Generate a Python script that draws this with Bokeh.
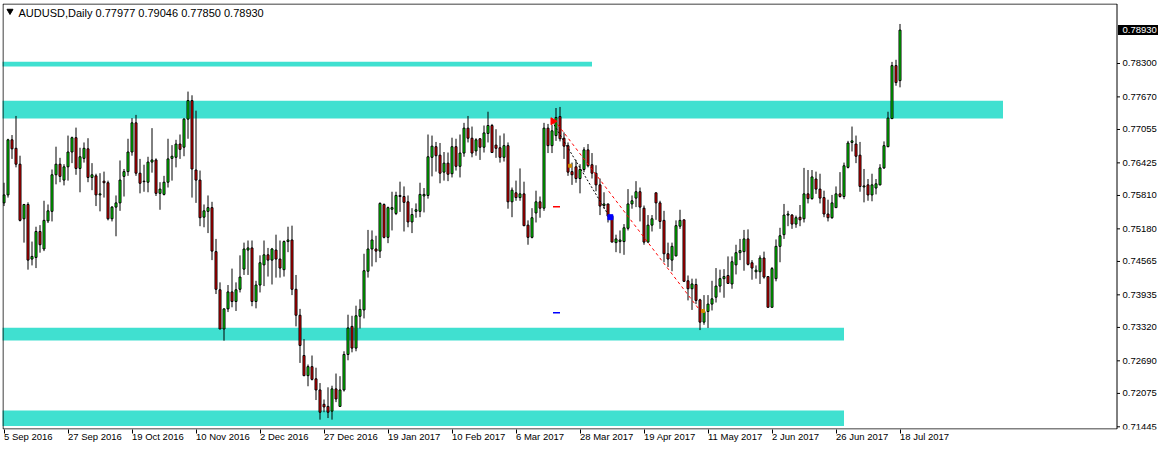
import math
from bokeh.plotting import figure
from bokeh.models import ColumnDataSource, FixedTicker, Range1d, Label
from bokeh.core.properties import value
from bokeh.embed import file_html
from bokeh.resources import INLINE

# ---------------- data (AUDUSD daily) ----------------
opens = [
    .7567, .7582, .7686, .7670, .7640, .7537, .7564, .7461, .7464, .7513,
    .7480, .7533, .7551, .7620, .7640, .7610, .7635, .7663, .7690, .7632,
    .7651, .7669, .7615, .7618, .7582, .7608, .7605, .7537, .7559, .7567,
    .7617, .7626, .7663, .7718, .7623, .7608, .7606, .7644, .7648, .7585,
    .7583, .7606, .7651, .7653, .7678, .7672, .7725, .7760, .7629, .7610,
    .7540, .7551, .7558, .7475, .7403, .7329, .7367, .7399, .7381, .7404,
    .7442, .7478, .7482, .7381, .7412, .7450, .7469, .7459, .7478, .7461,
    .7441, .7494, .7497, .7404, .7355, .7279, .7241, .7258, .7235, .7214,
    .7187, .7183, .7174, .7216, .7183, .7214, .7281, .7334, .7293, .7353,
    .7365, .7438, .7480, .7480, .7476, .7564, .7502, .7555, .7547, .7581,
    .7579, .7569, .7531, .7551, .7551, .7580, .7581, .7653, .7673, .7657,
    .7625, .7642, .7622, .7673, .7636, .7661, .7708, .7689, .7665, .7688,
    .7672, .7698, .7713, .7676, .7671, .7653, .7675, .7569, .7586, .7577,
    .7584, .7525, .7502, .7548, .7569, .7557, .7708, .7675, .7694, .7730,
    .7689, .7675, .7626, .7635, .7613, .7630, .7667, .7639, .7623, .7601,
    .7562, .7565, .7542, .7492, .7494, .7494, .7519, .7565, .7576, .7588,
    .7557, .7493, .7525, .7586, .7567, .7534, .7471, .7459, .7467, .7523,
    .7535, .7420, .7405, .7413, .7384, .7342, .7362, .7376, .7389, .7410,
    .7424, .7430, .7414, .7450, .7473, .7475, .7499, .7454, .7437, .7437,
    .7463, .7428, .7370, .7424, .7485, .7507, .7544, .7544, .7527, .7540,
    .7537, .7584, .7575, .7612, .7593, .7577, .7546, .7539, .7558, .7584,
    .7579, .7634, .7681, .7678, .7657, .7597, .7601, .7582, .7595, .7601,
    .7633, .7673, .7726, .7826, .77977,
]
highs = [
    .7605, .7688, .7695, .7731, .7656, .7565, .7568, .7494, .7522, .7525,
    .7571, .7564, .7630, .7673, .7652, .7640, .7694, .7692, .7709, .7671,
    .7681, .7689, .7642, .7622, .7623, .7626, .7609, .7561, .7581, .7647,
    .7631, .7688, .7727, .7733, .7650, .7639, .7654, .7708, .7651, .7606,
    .7618, .7688, .7676, .7686, .7696, .7727, .7777, .7770, .7741, .7628,
    .7564, .7581, .7569, .7499, .7417, .7368, .7412, .7443, .7417, .7468,
    .7492, .7496, .7496, .7420, .7468, .7496, .7482, .7482, .7507, .7496,
    .7496, .7522, .7524, .7431, .7367, .7310, .7262, .7279, .7256, .7227,
    .7196, .7219, .7222, .7245, .7240, .7287, .7356, .7354, .7373, .7385,
    .7471, .7516, .7515, .7505, .7568, .7566, .7560, .7588, .7588, .7607,
    .7598, .7581, .7557, .7566, .7605, .7595, .7696, .7694, .7682, .7680,
    .7663, .7662, .7690, .7688, .7696, .7718, .7731, .7711, .7689, .7689,
    .7713, .7739, .7716, .7706, .7694, .7698, .7681, .7596, .7609, .7632,
    .7607, .7534, .7557, .7590, .7579, .7718, .7716, .7714, .7746, .7748,
    .7700, .7681, .7643, .7648, .7640, .7672, .7678, .7661, .7638, .7613,
    .7587, .7565, .7544, .7507, .7515, .7527, .7593, .7581, .7608, .7596,
    .7562, .7544, .7544, .7586, .7571, .7552, .7492, .7492, .7534, .7554,
    .7535, .7430, .7424, .7424, .7386, .7393, .7393, .7420, .7444, .7441,
    .7442, .7466, .7466, .7488, .7499, .7516, .7517, .7459, .7449, .7468,
    .7475, .7428, .7446, .7498, .7520, .7565, .7552, .7546, .7543, .7563,
    .7633, .7629, .7629, .7626, .7622, .7590, .7573, .7582, .7598, .7625,
    .7643, .7684, .7711, .7694, .7682, .7631, .7612, .7622, .7612, .7640,
    .7683, .7739, .7833, .7837, .79046,
]
lows = [
    .7561, .7577, .7650, .7634, .7532, .7492, .7441, .7449, .7444, .7473,
    .7476, .7529, .7532, .7602, .7606, .7600, .7609, .7642, .7620, .7587,
    .7643, .7606, .7591, .7561, .7551, .7577, .7534, .7532, .7504, .7552,
    .7579, .7618, .7656, .7618, .7585, .7588, .7587, .7624, .7580, .7554,
    .7581, .7596, .7609, .7634, .7650, .7655, .7688, .7577, .7567, .7523,
    .7521, .7510, .7459, .7395, .7329, .7307, .7361, .7370, .7363, .7398,
    .7431, .7431, .7372, .7368, .7398, .7410, .7428, .7413, .7426, .7426,
    .7428, .7474, .7393, .7334, .7265, .7240, .7221, .7232, .7195, .7158,
    .7172, .7161, .7158, .7191, .7182, .7211, .7270, .7285, .7287, .7330,
    .7349, .7426, .7447, .7455, .7463, .7500, .7491, .7515, .7544, .7550,
    .7513, .7521, .7510, .7539, .7540, .7549, .7575, .7617, .7626, .7604,
    .7609, .7608, .7615, .7628, .7615, .7654, .7681, .7653, .7656, .7648,
    .7662, .7681, .7662, .7652, .7643, .7645, .7556, .7540, .7571, .7571,
    .7523, .7488, .7500, .7530, .7539, .7552, .7661, .7661, .7684, .7683,
    .7650, .7618, .7601, .7605, .7585, .7625, .7634, .7613, .7589, .7544,
    .7556, .7530, .7493, .7474, .7472, .7469, .7515, .7556, .7559, .7532,
    .7488, .7492, .7513, .7535, .7518, .7455, .7446, .7438, .7466, .7518,
    .7418, .7383, .7365, .7376, .7327, .7337, .7331, .7364, .7379, .7398,
    .7388, .7414, .7405, .7432, .7459, .7439, .7449, .7422, .7424, .7414,
    .7424, .7370, .7370, .7419, .7455, .7499, .7523, .7518, .7520, .7523,
    .7530, .7566, .7573, .7584, .7566, .7540, .7532, .7537, .7558, .7577,
    .7574, .7632, .7664, .7642, .7588, .7568, .7571, .7570, .7583, .7600,
    .7631, .7672, .7726, .7788, .77850,
]
closes = [
    .7582, .7686, .7669, .7640, .7534, .7564, .7459, .7466, .7513, .7488,
    .7534, .7552, .7620, .7640, .7617, .7635, .7663, .7690, .7632, .7654,
    .7670, .7615, .7620, .7582, .7584, .7605, .7537, .7559, .7567, .7610,
    .7626, .7663, .7718, .7623, .7604, .7607, .7644, .7648, .7585, .7593,
    .7606, .7650, .7655, .7678, .7668, .7725, .7760, .7631, .7610, .7539,
    .7552, .7558, .7476, .7404, .7329, .7367, .7399, .7381, .7403, .7427,
    .7480, .7482, .7381, .7412, .7454, .7469, .7459, .7480, .7461, .7444,
    .7494, .7497, .7404, .7355, .7298, .7241, .7258, .7234, .7214, .7172,
    .7182, .7172, .7216, .7197, .7214, .7281, .7331, .7293, .7354, .7366,
    .7439, .7480, .7497, .7476, .7566, .7502, .7558, .7558, .7581, .7579,
    .7568, .7531, .7545, .7554, .7583, .7583, .7654, .7674, .7656, .7623,
    .7642, .7621, .7673, .7636, .7661, .7708, .7689, .7661, .7686, .7672,
    .7699, .7713, .7662, .7670, .7653, .7675, .7569, .7591, .7577, .7584,
    .7524, .7502, .7539, .7569, .7557, .7708, .7675, .7703, .7728, .7688,
    .7674, .7625, .7620, .7613, .7630, .7667, .7637, .7623, .7601, .7561,
    .7565, .7542, .7493, .7499, .7497, .7520, .7565, .7571, .7588, .7559,
    .7493, .7525, .7537, .7567, .7532, .7471, .7461, .7485, .7524, .7534,
    .7419, .7405, .7414, .7383, .7342, .7362, .7376, .7386, .7410, .7424,
    .7428, .7415, .7456, .7473, .7477, .7499, .7451, .7444, .7440, .7463,
    .7427, .7370, .7443, .7485, .7505, .7544, .7546, .7527, .7539, .7535,
    .7584, .7575, .7616, .7593, .7576, .7546, .7539, .7567, .7584, .7579,
    .7637, .7680, .7684, .7655, .7598, .7599, .7582, .7601, .7603, .7633,
    .7675, .7727, .7826, .7794, .78930,
]

date_ticks = [0, 16, 32, 48, 64, 80, 96, 112, 128, 144, 160, 176, 192, 208, 224]
date_labels = ["5 Sep 2016", "27 Sep 2016", "19 Oct 2016", "10 Nov 2016", "2 Dec 2016",
               "27 Dec 2016", "19 Jan 2017", "10 Feb 2017", "6 Mar 2017", "28 Mar 2017",
               "19 Apr 2017", "11 May 2017", "2 Jun 2017", "26 Jun 2017", "18 Jul 2017"]
price_ticks = [0.71445, 0.72075, 0.72690, 0.73320, 0.73935, 0.74565, 0.75180,
               0.75810, 0.76425, 0.77055, 0.77670, 0.78300]
last_price = 0.78930
header = "AUDUSD,Daily  0.77977 0.79046 0.77850 0.78930"

# support / resistance zones
zone_top = [0.78332, 0.77597, 0.73312, 0.71754]
zone_bottom = [0.78244, 0.77263, 0.73073, 0.71458]
zone_end = [147.0, 249.75, 210.0, 210.0]

# trade / trend annotations (bar index, price)
trend_x = [137.5, 174.0]
trend_y = [0.77239, 0.73639]
trade_x = [137.5, 151.5]
trade_y = [0.77145, 0.75392]
sell_x, sell_y = 137.25, 0.77210
close_x, close_y = 151.6, 0.75400
sl_y, tp_y = 0.75599, 0.73595
mark_x = [141.5, 174.75]
mark_y = [0.7637, 0.7363]

# ---------------- figure ----------------
FONT = "Liberation Sans"
FS = "9.5px"
FW, FH = 1156, 426            # frame includes the price-scale strip on the right
BAR_PX = 4.0                  # pixels per bar
n = len(closes)
idx = list(range(n))
up = [c >= o for o, c in zip(opens, closes)]
src = ColumnDataSource(dict(
    x=idx, high=highs, low=lows,
    top=[max(o, c) for o, c in zip(opens, closes)],
    bottom=[min(o, c) for o, c in zip(opens, closes)],
    color=["#00ff00" if u else "#ff0000" for u in up],
))

x0 = -0.375
x1 = x0 + FW / BAR_PX
y0, y1 = 0.71394, 0.79432
ypx = (y1 - y0) / FH          # price per pixel
chart_right = x0 + 1114.5 / BAR_PX

p = figure(frame_width=FW, frame_height=FH, output_backend="svg", toolbar_location=None,
           x_range=Range1d(x0, x1), y_range=Range1d(y0, y1),
           y_axis_location=None, min_border_left=2, min_border_top=3,
           min_border_right=0, min_border_bottom=0)
p.background_fill_color = "white"
p.border_fill_color = "white"
p.outline_line_color = None
p.grid.visible = False

# zones
p.quad(left=[x0 - 1] * len(zone_top), right=zone_end, top=zone_top, bottom=zone_bottom,
       fill_color="#40E0D0", line_color=None)

# candles
p.segment(x0="x", y0="low", x1="x", y1="high", source=src, line_color="black", line_width=1)
p.vbar(x="x", width=0.5, top="top", bottom="bottom", source=src,
       fill_color="color", line_color="black", line_width=1)

# annotations
p.line(trend_x, trend_y, line_color="red", line_dash="3 3", line_width=1)
p.line(trade_x, trade_y, line_color="black", line_dash="2 2", line_width=1)
p.segment(x0=[137.25, 137.25], y0=[sl_y, tp_y], x1=[139.0, 139.0], y1=[sl_y, tp_y],
          line_color=["red", "blue"], line_width=1.5)
p.scatter([sell_x], [sell_y], marker="triangle", angle=-math.pi / 2, size=7,
          fill_color="red", line_color="red")
p.scatter([close_x], [close_y], marker="square", size=5, fill_color="blue", line_color="blue")
p.scatter(mark_x, mark_y, marker="square", size=3, fill_color="#d08a00", line_color="#d08a00")

# chart border
p.quad(left=[x0 + 0.125], right=[chart_right], top=[y1 - 0.5 * ypx], bottom=[y0 + 0.5 * ypx],
       fill_color=None, line_color="black", line_width=1)

# price scale (right): ticks, labels and current-price tag
k = len(price_ticks)
p.segment(x0=[chart_right] * k, y0=price_ticks, x1=[chart_right + 3 / BAR_PX] * k, y1=price_ticks,
          line_color="black", line_width=1)
p.text(x=[chart_right + 5.5 / BAR_PX] * k, y=price_ticks, text=["%.5f" % t for t in price_ticks],
       text_font=value(FONT), text_font_size=value(FS), text_color="black",
       text_baseline="middle", text_align="left")
p.quad(left=[chart_right + 1 / BAR_PX], right=[chart_right + 42 / BAR_PX],
       top=[last_price + 5 * ypx], bottom=[last_price - 5 * ypx],
       fill_color="black", line_color=None)
p.text(x=[chart_right + 5.5 / BAR_PX], y=[last_price], text=["%.5f" % last_price],
       text_font=value(FONT), text_font_size=value(FS), text_color="white",
       text_baseline="middle", text_align="left")

# header
p.scatter([1.5], [0.79290], marker="inverted_triangle", size=6, fill_color="black", line_color="black")
p.add_layout(Label(x=3.625, y=0.79375, text=header, text_font=FONT, text_font_size="11px",
                   text_color="black", text_baseline="top", text_align="left"))

# time axis (labels start at their tick, as in the terminal)
p.xaxis.ticker = FixedTicker(ticks=date_ticks)
p.xaxis.major_label_overrides = {t: lab for t, lab in zip(date_ticks, date_labels)}
p.xaxis.major_label_orientation = -0.0001
p.xaxis.minor_tick_line_color = None
p.xaxis.major_tick_in = 0
p.xaxis.major_tick_out = 4
p.xaxis.major_tick_line_color = "black"
p.xaxis.major_label_standoff = 3
p.xaxis.major_label_text_font = FONT
p.xaxis.major_label_text_font_size = FS
p.xaxis.major_label_text_color = "black"
p.xaxis.axis_line_color = None

open("out.html", "w").write(file_html(p, INLINE))
